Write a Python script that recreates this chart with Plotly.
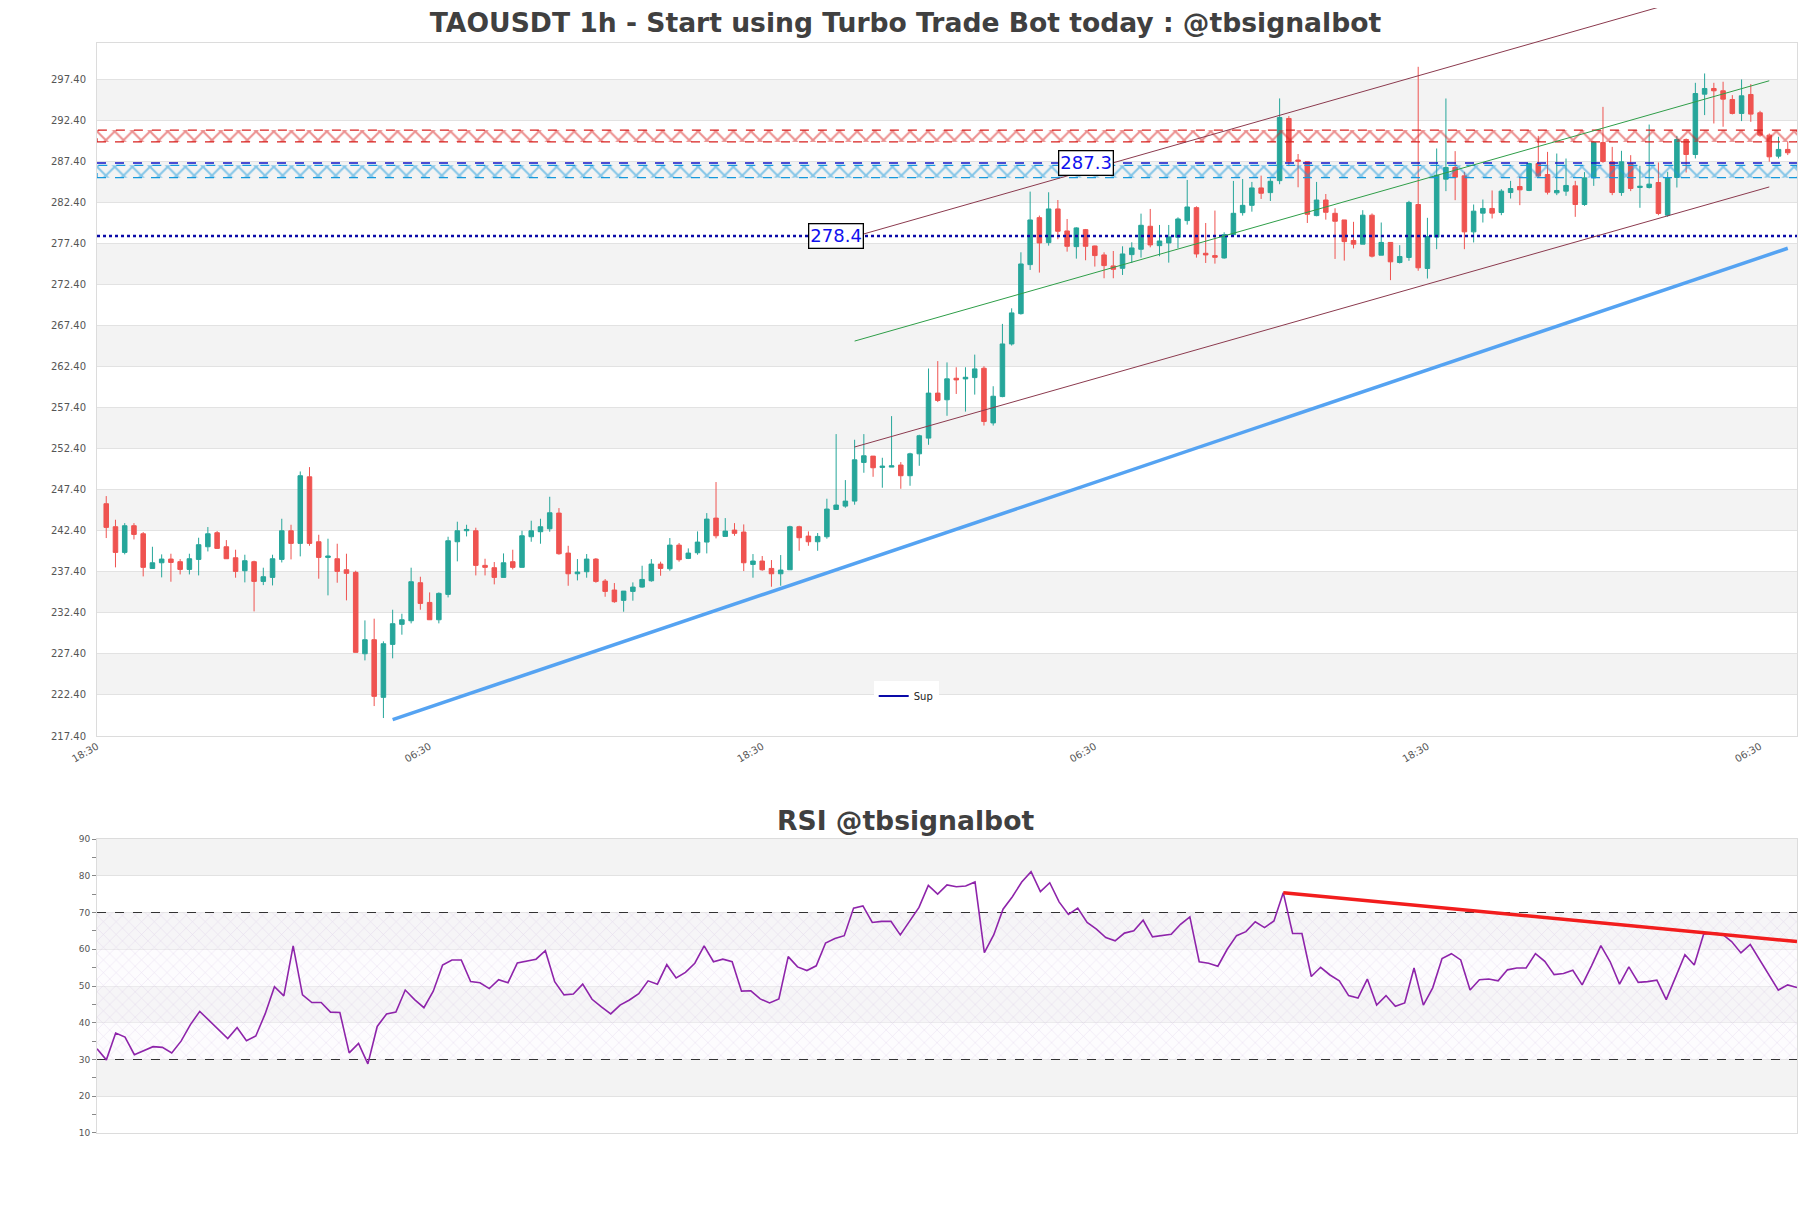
import pandas as pd
import plotly.graph_objects as go

# ---- data -------------------------------------------------------------------
start = pd.Timestamp("2024-08-14 18:30")          # axis starts one hour before first candle
n = 183
times = [start + pd.Timedelta(hours=i) for i in range(1, n + 1)]

opens = [245.69, 242.89, 239.76, 243.01, 242.03, 237.81, 238.50, 238.95, 238.63, 237.69,
         238.91, 240.45, 242.16, 240.45, 239.11, 237.53, 238.63, 236.23, 236.72, 238.91,
         242.40, 240.86, 248.97, 241.06, 239.15, 238.99, 237.65, 237.33, 227.42, 229.13,
         222.11, 228.56, 231.00, 231.44, 236.07, 233.67, 231.56, 234.65, 241.06, 242.40,
         242.40, 238.18, 237.90, 236.72, 238.63, 237.94, 241.67, 242.28, 242.64, 244.55,
         239.68, 237.16, 237.41, 238.95, 236.27, 235.18, 233.92, 235.01, 235.54, 236.31,
         238.34, 237.77, 240.65, 239.03, 239.72, 241.02, 243.94, 241.71, 242.48, 242.24,
         238.30, 238.71, 237.81, 237.16, 237.65, 242.89, 241.75, 241.06, 241.67, 244.99,
         245.40, 246.01, 250.72, 251.49, 250.11, 250.15, 250.40, 249.10, 251.77, 253.68,
         259.16, 258.35, 260.97, 260.89, 261.05, 262.19, 255.53, 258.74, 265.15, 268.84,
         274.81, 280.53, 277.49, 281.59, 278.91, 277.00, 279.07, 277.08, 275.99, 274.65,
         274.36, 276.03, 276.68, 279.48, 277.12, 277.45, 278.14, 280.17, 281.75, 276.19,
         275.91, 275.62, 278.46, 281.14, 282.03, 284.15, 283.58, 285.04, 292.61, 287.55,
         287.35, 280.78, 282.68, 281.06, 280.25, 277.75, 277.30, 280.83, 275.96, 277.51,
         275.07, 275.68, 282.13, 274.34, 278.16, 285.22, 286.64, 285.62, 278.80, 281.08,
         281.65, 281.16, 283.59, 284.32, 283.84, 287.12, 285.78, 283.55, 283.76, 284.40,
         282.13, 285.38, 289.68, 287.33, 283.59, 287.12, 284.20, 284.20, 284.81, 280.83,
         285.42, 290.05, 288.22, 295.57, 296.26, 295.98, 294.92, 293.22, 295.53, 293.30,
         290.58, 288.02, 288.84]
highs = [246.62, 243.74, 243.33, 243.33, 242.24, 240.45, 239.52, 239.60, 238.95, 239.60,
         241.55, 242.85, 242.36, 241.26, 240.09, 239.48, 238.75, 237.90, 239.48, 243.86,
         243.13, 249.62, 250.15, 241.91, 241.43, 240.82, 239.60, 237.53, 231.48, 231.69,
         228.93, 232.78, 232.29, 237.90, 236.80, 234.89, 234.89, 241.67, 243.50, 243.13,
         242.77, 238.99, 238.59, 239.64, 240.09, 242.40, 243.62, 243.86, 246.54, 245.16,
         240.57, 238.95, 239.56, 239.07, 236.52, 236.03, 235.05, 236.11, 238.14, 238.95,
         238.63, 241.51, 240.90, 240.25, 242.32, 244.55, 248.33, 243.94, 243.33, 243.17,
         239.56, 239.32, 238.83, 239.44, 243.01, 243.01, 242.32, 242.12, 246.30, 254.17,
         248.57, 253.48, 254.17, 251.49, 251.29, 256.36, 250.76, 251.90, 254.09, 262.16,
         263.06, 262.90, 262.31, 262.31, 263.85, 262.43, 260.00, 267.59, 269.49, 276.31,
         283.70, 280.78, 283.62, 282.68, 280.37, 279.36, 279.15, 277.12, 276.31, 276.47,
         277.04, 277.53, 281.02, 281.59, 279.64, 279.64, 280.57, 285.12, 281.91, 279.88,
         281.39, 278.75, 285.00, 285.24, 284.88, 285.65, 285.32, 295.05, 292.90, 288.28,
         287.35, 284.88, 283.41, 281.67, 280.25, 280.02, 281.44, 281.04, 279.94, 277.51,
         277.18, 282.58, 298.90, 280.51, 288.95, 295.04, 288.63, 286.11, 282.13, 282.74,
         283.84, 284.00, 285.01, 285.58, 287.21, 290.49, 288.54, 288.34, 287.73, 285.01,
         286.07, 289.84, 294.02, 289.15, 288.67, 288.14, 286.84, 291.87, 287.25, 286.11,
         290.49, 290.17, 296.95, 298.09, 296.95, 297.08, 295.45, 297.36, 296.79, 293.54,
         290.78, 290.38, 289.77]
lows = [241.51, 237.94, 239.52, 241.34, 236.84, 237.81, 236.72, 236.19, 237.08, 237.08,
        236.96, 239.88, 240.25, 238.99, 236.68, 236.11, 232.58, 235.78, 235.74, 238.54,
        238.91, 239.28, 240.57, 236.56, 234.53, 236.07, 233.92, 227.59, 226.61, 221.05,
        219.59, 226.86, 229.74, 231.12, 232.78, 231.56, 231.12, 234.28, 238.67, 241.71,
        236.96, 236.96, 235.87, 236.72, 237.69, 237.94, 241.06, 240.82, 242.28, 239.48,
        235.70, 236.35, 236.68, 236.07, 234.36, 233.63, 232.54, 233.88, 235.46, 236.19,
        236.92, 237.53, 238.63, 238.95, 239.48, 239.64, 241.47, 241.71, 241.79, 237.49,
        236.68, 237.53, 235.58, 235.70, 237.65, 239.96, 240.57, 239.96, 241.43, 244.99,
        245.20, 245.57, 249.46, 248.97, 247.64, 250.15, 247.51, 247.88, 250.31, 252.87,
        258.07, 256.40, 259.06, 256.91, 258.98, 255.21, 255.21, 258.66, 264.95, 268.72,
        274.16, 273.84, 277.12, 277.90, 276.39, 275.54, 275.34, 274.57, 273.15, 273.15,
        273.55, 275.01, 275.66, 276.92, 275.83, 275.05, 276.80, 279.68, 275.66, 275.01,
        274.93, 275.54, 278.46, 280.78, 281.26, 282.81, 282.56, 284.60, 286.80, 284.23,
        279.88, 280.70, 280.29, 275.50, 275.30, 276.78, 277.30, 275.68, 275.96, 272.92,
        274.95, 275.27, 274.06, 273.12, 276.69, 283.76, 282.66, 276.69, 277.51, 279.94,
        280.43, 280.83, 282.86, 282.05, 283.76, 285.42, 283.35, 283.27, 283.19, 280.63,
        281.97, 284.40, 287.21, 283.27, 283.19, 283.76, 281.73, 284.08, 280.83, 280.63,
        284.20, 286.03, 287.74, 293.02, 292.00, 291.60, 293.10, 292.29, 292.20, 290.38,
        287.34, 287.74, 288.15]
closes = [242.81, 239.76, 243.01, 241.95, 237.94, 238.50, 238.95, 238.54, 237.69, 238.99,
          240.70, 242.03, 240.25, 238.99, 237.45, 238.75, 236.23, 236.80, 238.99, 242.40,
          240.86, 249.10, 240.86, 239.15, 239.32, 237.45, 237.21, 227.59, 229.13, 222.23,
          228.64, 231.08, 231.56, 236.19, 233.55, 231.56, 234.77, 241.18, 242.40, 242.56,
          238.18, 237.94, 236.72, 238.50, 237.94, 241.79, 242.40, 242.89, 244.59, 239.60,
          237.16, 237.37, 238.95, 236.23, 235.01, 233.76, 235.05, 235.54, 236.47, 238.34,
          237.81, 240.65, 238.87, 239.68, 241.02, 243.82, 241.79, 242.36, 242.08, 238.50,
          238.71, 237.65, 237.16, 237.61, 242.89, 241.55, 241.06, 241.71, 245.04, 245.53,
          246.01, 251.04, 251.53, 250.07, 250.27, 250.31, 249.10, 251.77, 253.97, 259.16,
          258.27, 260.90, 260.77, 261.09, 262.11, 255.70, 258.78, 265.15, 268.93, 274.89,
          280.25, 277.45, 281.59, 278.87, 277.04, 279.28, 277.04, 275.91, 274.69, 274.24,
          276.11, 276.84, 279.60, 277.21, 277.69, 278.18, 280.37, 281.83, 276.11, 275.99,
          275.70, 278.46, 281.06, 282.03, 284.15, 283.50, 284.96, 292.73, 287.35, 287.39,
          280.94, 282.68, 281.18, 280.09, 277.61, 277.30, 280.83, 275.84, 277.51, 275.15,
          275.80, 282.38, 274.42, 278.24, 285.70, 286.64, 285.46, 278.80, 281.32, 281.65,
          281.08, 283.76, 284.08, 283.92, 287.12, 285.62, 283.63, 283.84, 284.45, 282.13,
          285.38, 289.68, 287.37, 283.59, 287.33, 284.08, 284.36, 284.61, 281.04, 285.38,
          290.05, 288.22, 295.65, 296.26, 295.98, 294.96, 293.22, 295.37, 293.14, 290.58,
          287.94, 288.84, 288.43]

rsi = [32.9, 29.9, 37.2, 36.1, 31.3, 32.4, 33.5, 33.3, 31.8, 35.0,
       39.5, 43.1, 40.6, 38.1, 35.7, 38.7, 35.1, 36.4, 42.4, 49.8,
       47.3, 60.9, 47.6, 45.5, 45.5, 42.9, 42.8, 31.8, 34.4, 28.8,
       39.0, 42.4, 42.9, 48.9, 46.3, 44.1, 48.6, 55.7, 57.1, 57.1,
       51.2, 50.9, 49.3, 51.7, 50.9, 56.3, 56.9, 57.3, 59.6, 51.2,
       47.6, 47.8, 50.5, 46.4, 44.3, 42.4, 44.8, 46.2, 47.9, 51.4,
       50.5, 55.8, 52.2, 53.7, 56.2, 60.9, 56.6, 57.3, 56.6, 48.6,
       48.7, 46.5, 45.4, 46.5, 58.0, 55.2, 54.2, 55.5, 61.7, 62.9,
       63.7, 71.2, 71.8, 67.3, 67.6, 67.6, 63.9, 67.7, 71.4, 77.4,
       75.0, 77.5, 77.0, 77.2, 78.3, 59.1, 63.9, 70.9, 74.3, 78.3,
       81.1, 75.7, 78.1, 72.9, 69.5, 71.2, 67.3, 65.5, 63.2, 62.3,
       64.4, 65.0, 67.9, 63.4, 63.7, 64.1, 66.8, 68.8, 56.6, 56.2,
       55.4, 60.0, 63.7, 64.8, 67.5, 65.9, 67.7, 75.4, 64.3, 64.3,
       52.6, 55.1, 53.0, 51.4, 47.4, 46.7, 51.9, 44.8, 47.4, 44.5,
       45.4, 54.9, 44.8, 49.5, 57.5, 58.8, 57.1, 48.9, 51.7, 51.9,
       51.4, 54.4, 54.9, 54.9, 58.8, 56.7, 53.1, 53.4, 54.3, 50.3,
       55.5, 61.0, 56.6, 50.5, 55.2, 51.0, 51.2, 51.6, 46.3, 52.5,
       58.5, 55.7, 64.1, 64.5, 64.1, 62.1, 59.0, 61.3, 57.1, 52.8,
       48.9, 50.3, 49.6]

# levels / zones
res_zone = [289.75, 291.2]
sup_zone = [285.4, 286.9]
res_line, res_label = 287.2, "287.3"
sup_line, sup_label = 278.3, "278.4"
res_label_at, sup_label_at = 107, 80          # candle index where the labels sit

# trend lines: (candle index, price)
sup_trend = [(32, 219.4), (183, 276.8)]
chan_low = [(82, 252.6), (181, 284.27)]
chan_mid = [(82, 265.5), (181, 297.2)]
chan_high = [(83, 278.55), (169, 306.15)]
rsi_trend = [(128, 75.4), (183, 62.1)]

price_range = [217.4, 301.8]
price_ticks = [217.4 + 5 * k for k in range(17)]
rsi_range = [10, 90]
rsi_bands = [30, 70]

main_dom = [0.3642, 1.0]
rsi_dom = [0.0, 0.2697]

x_end = start + pd.Timedelta(hours=n + 1)
tick_times = [start + pd.Timedelta(hours=36 * k) for k in range(6)]

GREEN, RED = "#26a69a", "#ef5350"
FONT = "DejaVu Sans"
W, H = 1795, 1192          # page body adds an 8px margin around the figure


def t(i):
    return times[i - 1]


def to_paper(p):
    return main_dom[0] + (p - price_range[0]) / (price_range[1] - price_range[0]) * (main_dom[1] - main_dom[0])


fig = go.Figure()

# hatched zones
for lo_hi, col in [(res_zone, "#d8201e"), (sup_zone, "#1598dc")]:
    fig.add_trace(go.Scatter(
        x=[start, x_end, x_end, start, start], y=[lo_hi[0], lo_hi[0], lo_hi[1], lo_hi[1], lo_hi[0]],
        mode="lines", fill="toself", line=dict(color=col, width=1.3, dash="dash"),
        fillpattern=dict(shape="x", fgcolor=col, bgcolor="rgba(255,255,255,0)", size=12.5, solidity=0.3),
        hoverinfo="skip", showlegend=False, xaxis="x", yaxis="y"))

# horizontal levels
fig.add_trace(go.Scatter(x=[start, x_end], y=[res_line, res_line], mode="lines",
                         line=dict(color="#1414c8", width=1.5, dash="dash"), showlegend=False))
fig.add_trace(go.Scatter(x=[start, x_end], y=[sup_line, sup_line], mode="lines",
                         line=dict(color="#0a0aa8", width=2.5, dash="dot"), showlegend=False))

# candles
fig.add_trace(go.Candlestick(
    x=times, open=opens, high=highs, low=lows, close=closes,
    increasing=dict(line=dict(color=GREEN, width=1), fillcolor=GREEN),
    decreasing=dict(line=dict(color=RED, width=1), fillcolor=RED),
    showlegend=False, xaxis="x", yaxis="y"))

# trend lines
for pts, col, w in [(sup_trend, "#55a3f2", 3.5), (chan_low, "#8b3a4e", 1), (chan_mid, "#2e9e48", 1)]:
    fig.add_trace(go.Scatter(x=[t(i) for i, _ in pts], y=[p for _, p in pts], mode="lines",
                             line=dict(color=col, width=w), showlegend=False, hoverinfo="skip"))

# legend entry
fig.add_trace(go.Scatter(x=[None], y=[None], mode="lines", name="Sup",
                         line=dict(color="#0a0aa8", width=2), showlegend=True))

# RSI
fig.add_trace(go.Scatter(
    x=[times[0], times[-1], times[-1], times[0], times[0]],
    y=[rsi_bands[0], rsi_bands[0], rsi_bands[1], rsi_bands[1], rsi_bands[0]],
    mode="lines", fill="toself", line=dict(width=0),
    fillpattern=dict(shape="x", fgcolor="rgba(175,140,205,0.6)", bgcolor="rgba(250,248,252,0.4)",
                     size=9, solidity=0.1),
    hoverinfo="skip", showlegend=False, xaxis="x2", yaxis="y2"))
for lvl in rsi_bands:
    fig.add_trace(go.Scatter(x=[times[0], times[-1]], y=[lvl, lvl], mode="lines",
                             line=dict(color="#333333", width=1.2, dash="dash"),
                             showlegend=False, xaxis="x2", yaxis="y2"))
fig.add_trace(go.Scatter(x=times, y=rsi, mode="lines", line=dict(color="#8e24aa", width=1.6),
                         showlegend=False, xaxis="x2", yaxis="y2"))
fig.add_trace(go.Scatter(x=[t(i) for i, _ in rsi_trend], y=[v for _, v in rsi_trend], mode="lines",
                         line=dict(color="#f21d1d", width=3.5), showlegend=False, xaxis="x2", yaxis="y2"))

# background bands
shapes = []
for k in range(1, len(price_ticks) - 1, 2):
    shapes.append(dict(type="rect", xref="x domain", yref="y", x0=0, x1=1,
                       y0=price_ticks[k], y1=price_ticks[k + 1],
                       fillcolor="#f3f3f3", line=dict(width=0), layer="below"))
for lo in range(20, 90, 20):
    shapes.append(dict(type="rect", xref="x2 domain", yref="y2", x0=0, x1=1, y0=lo, y1=lo + 10,
                       fillcolor="#f3f3f3", line=dict(width=0), layer="below"))
# upper channel line runs past the top of the plot, so it is not clipped vertically
shapes.append(dict(type="line", xref="x", yref="paper",
                   x0=t(chan_high[0][0]), y0=to_paper(chan_high[0][1]),
                   x1=t(chan_high[1][0]), y1=to_paper(chan_high[1][1]),
                   line=dict(color="#8b3a4e", width=1)))

annotations = [
    dict(x=t(res_label_at), y=res_line, xref="x", yref="y", text=res_label, showarrow=False,
         font=dict(family=FONT, size=18, color="#1010ee"), bgcolor="white",
         bordercolor="black", borderwidth=1.3, borderpad=1),
    dict(x=t(sup_label_at), y=sup_line, xref="x", yref="y", text=sup_label, showarrow=False,
         font=dict(family=FONT, size=18, color="#1010ee"), bgcolor="white",
         bordercolor="black", borderwidth=1.3, borderpad=1),
    dict(x=0.4756, y=0.287, xref="paper", yref="paper", text="<b>RSI @tbsignalbot</b>",
         showarrow=False, yanchor="middle", font=dict(family=FONT, size=26.6, color="#404040")),
]

axis_line = "#dcdcdc"
fig.update_layout(
    width=W, height=H,
    margin=dict(l=89, r=6, t=35, b=67),
    paper_bgcolor="white", plot_bgcolor="white",
    font=dict(family=FONT, color="#555555"),
    title=dict(text="<b>TAOUSDT 1h - Start using Turbo Trade Bot today : @tbsignalbot</b>",
               x=0.5, xanchor="center", y=1 - 15 / H, yanchor="middle",
               font=dict(family=FONT, size=26.6, color="#404040")),
    xaxis=dict(domain=[0, 1], anchor="y", range=[start, x_end], type="date",
               tickvals=tick_times, tickformat="%H:%M", tickangle=-30,
               tickfont=dict(size=10, color="#555555"),
               showgrid=False, showline=True, mirror=True, linecolor=axis_line,
               rangeslider=dict(visible=False)),
    yaxis=dict(domain=main_dom, anchor="x", range=price_range, tickmode="array",
               tickvals=price_ticks, ticktext=["%.2f" % v for v in price_ticks],
               tickfont=dict(size=10, color="#555555"), ticklabelstandoff=8,
               showgrid=True, gridcolor="#e2e2e2", zeroline=False,
               showline=True, mirror=True, linecolor=axis_line),
    xaxis2=dict(domain=[0, 1], anchor="y2", range=[times[0], times[-1]], type="date",
                showticklabels=False, showgrid=False, showline=True, mirror=True, linecolor=axis_line),
    yaxis2=dict(domain=rsi_dom, anchor="x2", range=rsi_range, tickmode="array",
                tickvals=list(range(10, 91, 10)), tickfont=dict(size=9, color="#555555"),
                ticks="outside", ticklen=4, tickcolor="#888888",
                minor=dict(dtick=5, ticks="outside", ticklen=4, tickcolor="#888888", showgrid=False),
                showgrid=True, gridcolor="#e2e2e2", zeroline=False,
                showline=True, mirror=True, linecolor=axis_line),
    legend=dict(x=0.476, y=0.401, xanchor="center", yanchor="middle", bgcolor="white",
                font=dict(size=10, color="#222222"), itemwidth=30),
    shapes=shapes, annotations=annotations,
)

fig.write_html("out.html")
